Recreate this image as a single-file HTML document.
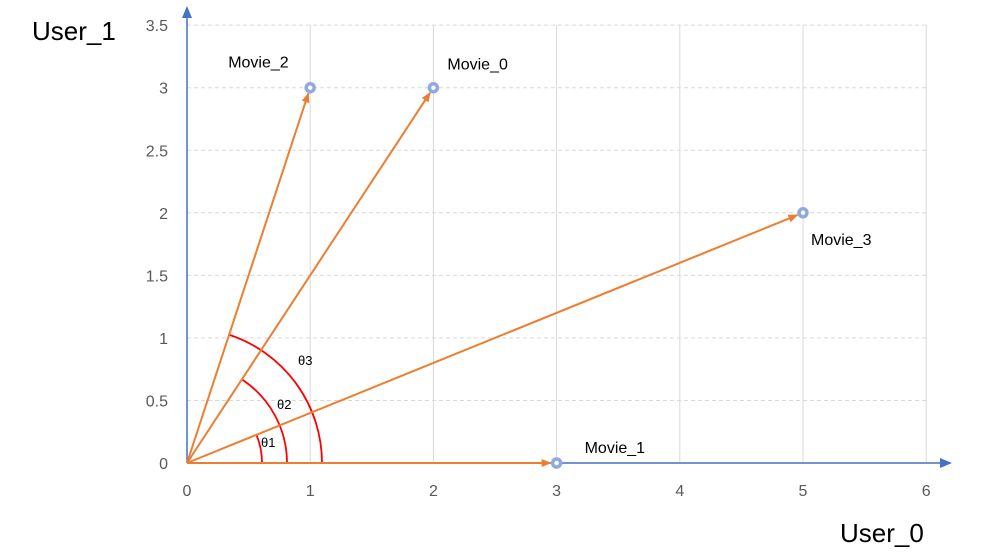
<!DOCTYPE html>
<html><head><meta charset="utf-8"><style>
html,body{margin:0;padding:0;background:#fff;}
svg{display:block;font-family:"Liberation Sans",Calibri,sans-serif;}
</style></head><body>
<svg id="chart" width="995" height="555" viewBox="0 0 995 555">
<defs>
<marker id="ao" markerWidth="10" markerHeight="8" refX="9" refY="4" orient="auto" markerUnits="userSpaceOnUse"><path d="M0,0 L10,4 L0,8 Z" fill="#ed7d31"/></marker>
<marker id="ab" markerWidth="12" markerHeight="10" refX="10" refY="5" orient="auto" markerUnits="userSpaceOnUse"><path d="M0,0 L12,5 L0,10 Z" fill="#4472c4"/></marker>
</defs>
<g id="grid"></g>
<g id="axes"></g>
<g id="arcs"></g>
<g id="vecs"></g>
<g id="pts"></g>
<text x="32" y="40" font-size="26" fill="#000">User_1</text>
<text x="840" y="542" font-size="26" fill="#000">User_0</text>
</svg>
<script>
const xTicks=[0,1,2,3,4,5,6];
const yTicks=[0,0.5,1,1.5,2,2.5,3,3.5];
const movieNames=["Movie_0","Movie_1","Movie_2","Movie_3"];
const movieX=[2,3,1,5];
const movieY=[3,0,3,2];
const angleLabels=["θ1","θ2","θ3"];
const angleTargets=["Movie_3","Movie_0","Movie_2"];
const NS="http://www.w3.org/2000/svg";
const X=v=>187+v*123.2, Y=v=>463-v*125.1;
function mk(p,t,a){const e=document.createElementNS(NS,t);for(const k in a)e.setAttribute(k,a[k]);p.appendChild(e);return e;}
const grid=document.getElementById('grid'),axes=document.getElementById('axes');
xTicks.forEach(v=>{
 if(v>0){const l=mk(grid,'line',{x1:X(v),x2:X(v),y1:Y(3.5),y2:Y(0),stroke:'#d9d9d9','stroke-width':1});
 
 }
 const t=mk(axes,'text',{x:X(v),y:496,'font-size':16,fill:'#595959','text-anchor':'middle'});t.textContent=v;
 
 
});
yTicks.forEach(v=>{
 if(v>0){const l=mk(grid,'line',{x1:X(0),x2:X(6),y1:Y(v),y2:Y(v),stroke:'#d9d9d9','stroke-width':1,'stroke-dasharray':'4 3'});
 
 }
 const t=mk(axes,'text',{x:168,y:Y(v)+6,'font-size':16,fill:'#595959','text-anchor':'end'});t.textContent=v;
 
 
});
let ax=mk(axes,'line',{x1:X(0),y1:Y(0),x2:950,y2:Y(0),stroke:'#4472c4','stroke-width':1.5,'marker-end':'url(#ab)'});


let ay=mk(axes,'line',{x1:X(0),y1:Y(0),x2:X(0),y2:8,stroke:'#4472c4','stroke-width':1.5,'marker-end':'url(#ab)'});


const arcs=document.getElementById('arcs');const radii=[75,100,135];
const labPos=[[74,-16],[90,-54],[111,-98]];
angleTargets.forEach((nm,i)=>{
 const k=movieNames.indexOf(nm);const dx=X(movieX[k])-X(0),dy=Y(movieY[k])-Y(0);
 const a=Math.atan2(dy,dx),r=radii[i];
 const p=mk(arcs,'path',{d:`M${X(0)+r},${Y(0)} A${r},${r} 0 0 0 ${X(0)+r*Math.cos(a)},${Y(0)+r*Math.sin(a)}`,fill:'none',stroke:'#ff0000','stroke-width':1.8});
 
 
 const t=mk(arcs,'text',{x:X(0)+labPos[i][0],y:Y(0)+labPos[i][1],'font-size':13,fill:'#000'});t.textContent=angleLabels[i];
 
 
});
const vecs=document.getElementById('vecs'),pts=document.getElementById('pts');
const labOff={Movie_0:[14,-18],Movie_1:[28,-10],Movie_2:[-82,-20],Movie_3:[8,32]};
movieNames.forEach((nm,i)=>{
 const px=X(movieX[i]),py=Y(movieY[i]);const dx=px-X(0),dy=py-Y(0),L=Math.hypot(dx,dy);
 const v=mk(vecs,'line',{x1:X(0),y1:Y(0),x2:px-dx/L*6,y2:py-dy/L*6,stroke:'#ed7d31','stroke-width':2,'marker-end':'url(#ao)'});
 
 
 const c=mk(pts,'circle',{cx:px,cy:py,r:4,fill:'#fff',stroke:'#8faadc','stroke-width':3.5});
 
 
 const t=mk(pts,'text',{x:px+labOff[nm][0],y:py+labOff[nm][1],'font-size':16,fill:'#000'});t.textContent=nm;
 
 
});
</script>
</body></html>
